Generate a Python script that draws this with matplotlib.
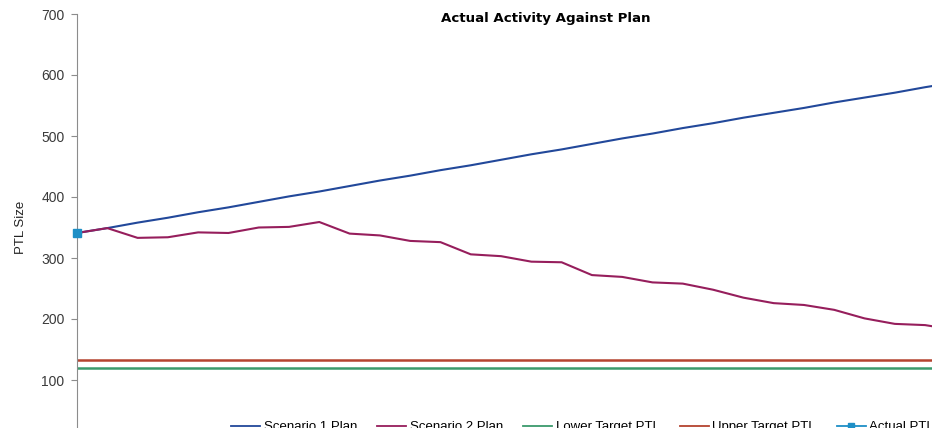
import matplotlib
matplotlib.use("Agg")
import matplotlib.pyplot as plt
from matplotlib.lines import Line2D

plt.rcParams["font.family"] = ["Liberation Sans", "DejaVu Sans"]

# ---- data ----
periods = list(range(30))
scenario1 = [341, 349, 358, 366, 375, 383, 392, 401, 409, 418,
             427, 435, 444, 452, 461, 470, 478, 487, 496, 504,
             513, 521, 530, 538, 546, 555, 563, 571, 580, 588]
scenario2 = [341, 349, 333, 334, 342, 341, 350, 351, 359, 340,
             337, 328, 326, 306, 303, 294, 293, 272, 269, 260,
             258, 248, 235, 226, 223, 215, 201, 192, 190, 182]
lower_target = [120] * len(periods)
upper_target = [132] * len(periods)
actual = [341]

c_s1 = "#22489a"
c_s2 = "#961e5c"
c_low = "#3a9a6c"
c_up = "#b4432f"
c_act = "#1e8fc6"

W, H = 932, 428
fig = plt.figure(figsize=(W / 100, H / 100), dpi=100)
ax = fig.add_axes([77 / W, -13 / H, 878.4 / W, 427 / H])

ax.plot(periods, lower_target, color=c_low, lw=1.8)
ax.plot(periods, upper_target, color=c_up, lw=1.8)
ax.plot(periods, scenario1, color=c_s1, lw=1.5)
ax.plot(periods, scenario2, color=c_s2, lw=1.5)
ax.plot(periods[:len(actual)], actual, color=c_act, marker="s", ms=5.5,
        lw=1.5, clip_on=False, zorder=5)

ax.set_xlim(0, 29)
ax.set_ylim(0, 700)
ax.set_yticks(range(0, 701, 100))
ax.set_xticks([])
for s in ["top", "right", "bottom"]:
    ax.spines[s].set_visible(False)
ax.spines["left"].set_color("#8c8c8c")
ax.tick_params(axis="y", length=4, color="#8c8c8c", labelsize=10,
               labelcolor="#3a3a3a", pad=5)
ax.set_ylabel("PTL Size", fontsize=9.5, color="#222222", labelpad=10)

fig.text(546 / W, 1 - 18.5 / H, "Actual Activity Against Plan",
         ha="center", va="center", fontsize=9.6, fontweight="bold",
         family="DejaVu Sans")

handles = [
    Line2D([], [], color=c_s1, lw=1.3),
    Line2D([], [], color=c_s2, lw=1.3),
    Line2D([], [], color=c_low, lw=1.3),
    Line2D([], [], color=c_up, lw=1.3),
    Line2D([], [], color=c_act, lw=1.3, marker="s", ms=4),
]
labels = ["Scenario 1 Plan", "Scenario 2 Plan", "Lower Target PTL",
          "Upper Target PTL", "Actual PTL"]
fig.legend(handles, labels, loc="center left", ncol=5, frameon=False,
           bbox_to_anchor=(226 / W, 1 - 427 / H), fontsize=9.5,
           handlelength=2.2, handletextpad=0.25, columnspacing=1.55,
           borderaxespad=0, borderpad=0.4)

fig.savefig("out.png", dpi=100)
